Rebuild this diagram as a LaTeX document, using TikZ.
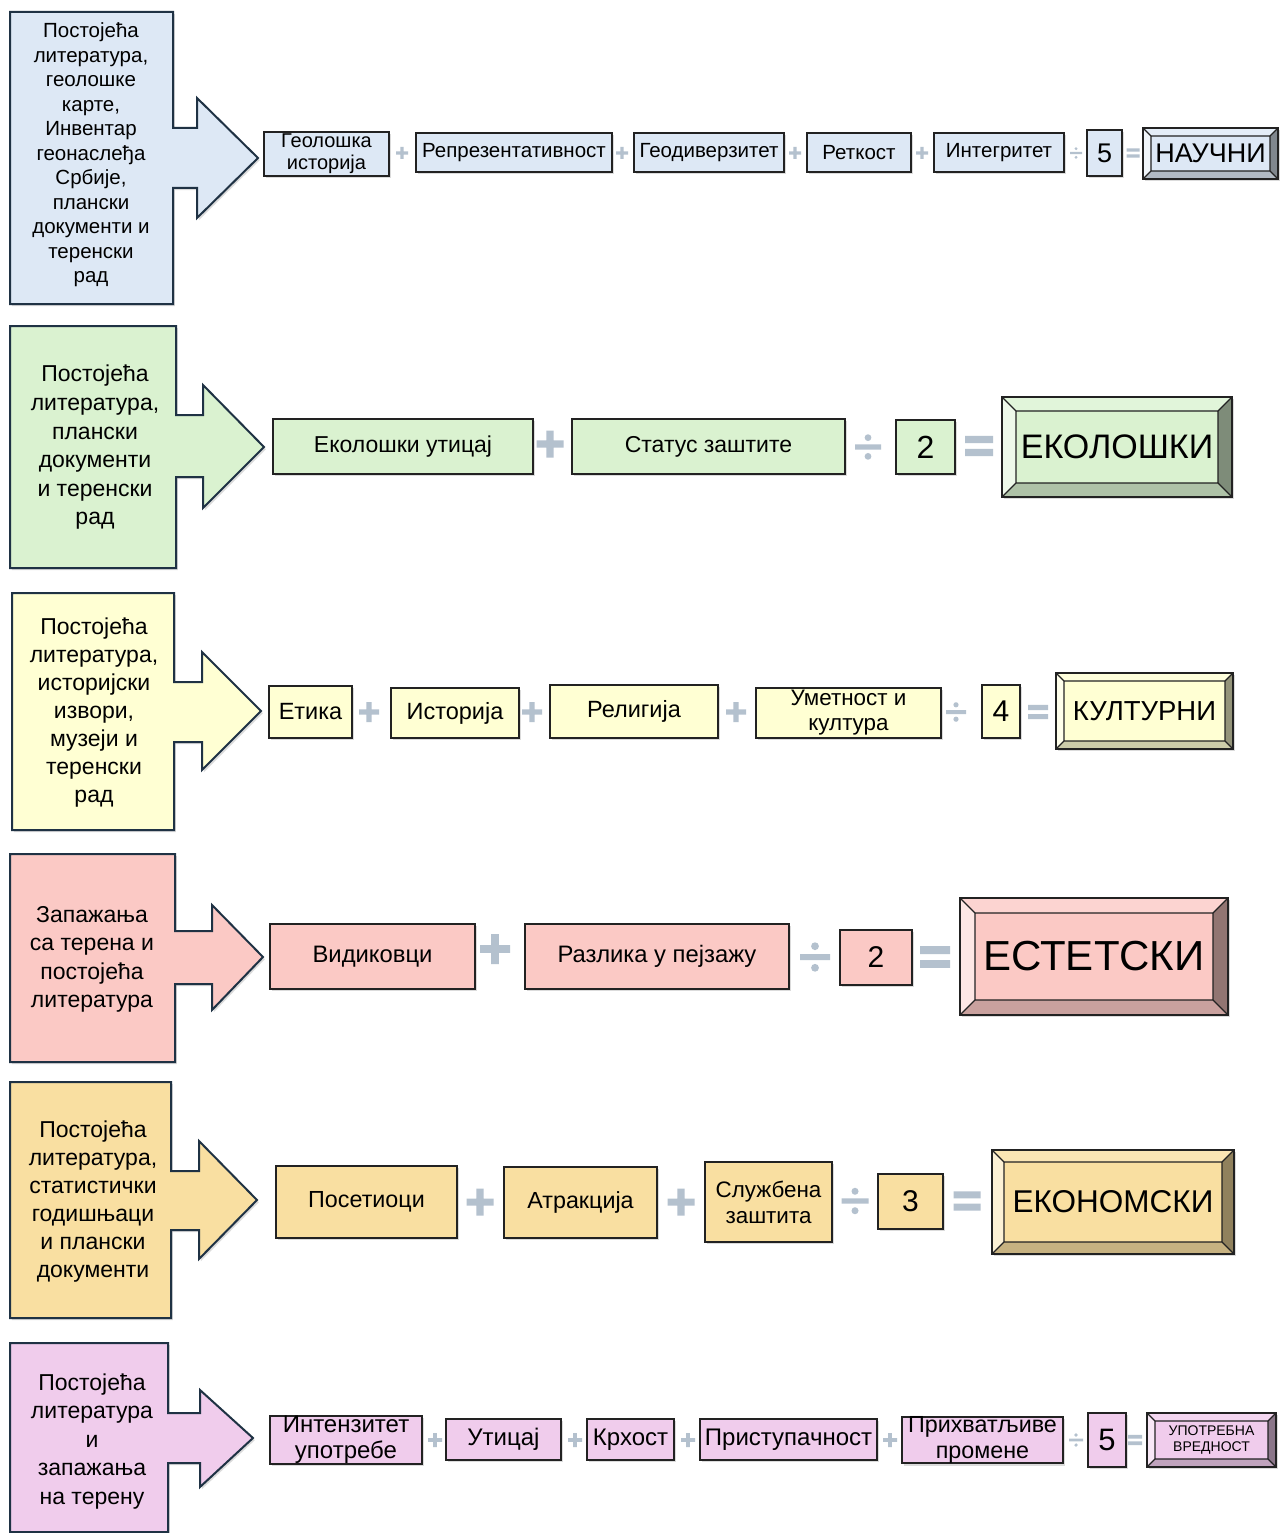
\documentclass[tikz,border=0pt]{standalone}
\usepackage{fontspec}
\setmainfont{Liberation Sans}
\usetikzlibrary{calc,shadows}
\definecolor{cB}{HTML}{DDE8F5}
\definecolor{cG}{HTML}{DAF2D0}
\definecolor{cY}{HTML}{FFFFD3}
\definecolor{cR}{HTML}{FBC9C5}
\definecolor{cO}{HTML}{F9DFA1}
\definecolor{cP}{HTML}{F0CCEC}
\definecolor{cS}{HTML}{1F3244}
\definecolor{cK}{HTML}{222222}
\definecolor{opc}{HTML}{B4C1CE}
\newcommand\fs[2]{\fontsize{#1}{#2}\selectfont}
\newcommand\opplus[3]{\fill[opc, shift={(#1,#2)}, scale=#3] (-0.5,-0.13) rectangle (0.5,0.13) (-0.13,-0.5) rectangle (0.13,0.5);}
\newcommand\opdiv[3]{\fill[opc, shift={(#1,#2)}, scale=#3] (-0.5,-0.1) rectangle (0.5,0.1) (0,-0.36) circle [radius=0.13] (0,0.36) circle [radius=0.13];}
\newcommand\opeq[3]{\fill[opc, shift={(#1,#2)}, scale=#3] (-0.5,-0.36) rectangle (0.5,-0.1) (-0.5,0.1) rectangle (0.5,0.36);}
\newcommand\bevel[9]{%
  \node[bevbox, fill=#7, minimum width=#4, minimum height=#5] (#1) at (#2,#3) {};
  \coordinate (#1-a) at ($(#1.north west)+(#6,#6)$);
  \coordinate (#1-b) at ($(#1.north east)+(-#6,#6)$);
  \coordinate (#1-c) at ($(#1.south east)+(-#6,-#6)$);
  \coordinate (#1-d) at ($(#1.south west)+(#6,-#6)$);
  \fill[#7!45!white] (#1.north west) -- (#1-a) -- (#1-d) -- (#1.south west) -- cycle;
  \fill[#7!80!white] (#1.north west) -- (#1.north east) -- (#1-b) -- (#1-a) -- cycle;
  \fill[#7!58!black] (#1.north east) -- (#1.south east) -- (#1-c) -- (#1-b) -- cycle;
  \fill[#7!80!black] (#1.south west) -- (#1.south east) -- (#1-c) -- (#1-d) -- cycle;
  \draw[line width=1.2pt, cK] (#1-a) rectangle (#1-c)
     (#1.north west) -- (#1-a) (#1.north east) -- (#1-b)
     (#1.south east) -- (#1-c) (#1.south west) -- (#1-d);
  \draw[line width=2.4pt, cK] (#1.north west) rectangle (#1.south east);
  \node[font=#8, align=center, inner sep=0pt] (#1-t) at (#1) {#9};
}
\tikzset{
  shd/.style={drop shadow={opacity=0.28, shadow xshift=1.8pt, shadow yshift=-2.2pt}},
  callout/.style={draw=cS, line width=2pt, line join=miter, shd},
  ctext/.style={align=center, inner sep=0pt, text=black},
  bx/.style={draw=cK, line width=2pt, inner sep=0pt, outer sep=0pt, align=center, shd},
  bevbox/.style={inner sep=0pt, outer sep=0pt, shd},
}
\begin{document}
\begin{tikzpicture}[x=1pt, y=-1pt]
\useasboundingbox (0,0) rectangle (1282,1533);
\fill[white] (0,0) rectangle (1282,1533);

% ---------------- Row 1 (blue)
\filldraw[callout, fill=cB] (10,12) -- (173,12) -- (173,128) -- (197,128) -- (197,98) -- (258,158) -- (197,218) -- (197,188) -- (173,188) -- (173,304) -- (10,304) -- cycle;
\node[ctext, font=\fs{20.5}{24.5}] (t1) at (91,155) {Постојећа\\литература,\\геолошке\\карте,\\Инвентар\\геонаслеђа\\Србије,\\плански\\документи и\\теренски\\рад};
\node[bx, fill=cB, minimum width=125, minimum height=44, font=\fs{20}{22}] (a1) at (326.5,154) {Геолошка\\историја};
\opplus{402}{153}{12}
\node[bx, fill=cB, minimum width=196, minimum height=39, font=\fs{20.5}{22}] (a2) at (514,152.5) {Репрезентативност};
\opplus{622}{153}{12}
\node[bx, fill=cB, minimum width=150, minimum height=39, font=\fs{20.5}{22}] (a3) at (709,152.5) {Геодиверзитет};
\opplus{795}{153}{12}
\node[bx, fill=cB, minimum width=104, minimum height=39, font=\fs{20.5}{22}] (a4) at (859,152.5) {Реткост};
\opplus{922}{153}{12}
\node[bx, fill=cB, minimum width=130, minimum height=39, font=\fs{20.5}{22}] (a5) at (999,152.5) {Интегритет};
\opdiv{1076}{153}{12}
\node[bx, fill=cB, minimum width=35, minimum height=46, font=\fs{27}{30}] (a6) at (1104.5,153) {5};
\opeq{1133}{153}{13}
\bevel{a7}{1210.5}{153.5}{135}{51}{8}{cB}{\fs{27}{30}}{НАУЧНИ}

% ---------------- Row 2 (green)
\filldraw[callout, fill=cG] (10,326) -- (176,326) -- (176,415) -- (203,415) -- (203,385) -- (264,447) -- (203,508) -- (203,477) -- (176,477) -- (176,568) -- (10,568) -- cycle;
\node[ctext, font=\fs{23}{28.6}] (t2) at (95,447.5) {Постојећа\\литература,\\плански\\документи\\и теренски\\рад};
\node[bx, fill=cG, minimum width=260, minimum height=55, font=\fs{23}{26}] (b1) at (403,446.5) {Еколошки утицај};
\opplus{550}{444}{27}
\node[bx, fill=cG, minimum width=273, minimum height=55, font=\fs{23}{26}] (b2) at (708.5,446.5) {Статус заштите};
\opdiv{868}{447}{26}
\node[bx, fill=cG, minimum width=59, minimum height=54, font=\fs{32}{34}] (b3) at (925.5,447) {2};
\opeq{979}{446}{28}
\bevel{b4}{1117}{447}{230}{100}{14}{cG}{\fs{34}{36}}{ЕКОЛОШКИ}

% ---------------- Row 3 (yellow)
\filldraw[callout, fill=cY] (12,593) -- (174,593) -- (174,682) -- (202,682) -- (202,652) -- (261,711) -- (202,770) -- (202,742) -- (174,742) -- (174,830) -- (12,830) -- cycle;
\node[ctext, font=\fs{23}{28}] (t3) at (94,712.5) {Постојећа\\литература,\\историјски\\извори,\\музеји и\\теренски\\рад};
\node[bx, fill=cY, minimum width=83, minimum height=52, font=\fs{23.5}{26}] (c1) at (310.5,712) {Етика};
\opplus{369}{712}{20}
\node[bx, fill=cY, minimum width=128, minimum height=50, font=\fs{23.5}{26}] (c2) at (455,713) {Историја};
\opplus{532}{712}{20}
\node[bx, fill=cY, minimum width=168, minimum height=53, font=\fs{23.5}{26}] (c3) at (634,711.5) {Религија};
\opplus{736}{712}{20}
\node[bx, fill=cY, minimum width=185, minimum height=50, font=\fs{22.4}{25}] (c4) at (848.5,713) {Уметност и\\култура};
\opdiv{956}{712}{20}
\node[bx, fill=cY, minimum width=38, minimum height=53, font=\fs{30}{32}] (c5) at (1001,711.5) {4};
\opeq{1038}{712}{20}
\bevel{c6}{1144.5}{711}{177}{76}{8}{cY}{\fs{27.5}{30}}{КУЛТУРНИ}

% ---------------- Row 4 (red)
\filldraw[callout, fill=cR] (10,854) -- (175,854) -- (175,931) -- (212,931) -- (212,905) -- (263,957) -- (212,1010) -- (212,984) -- (175,984) -- (175,1062) -- (10,1062) -- cycle;
\node[ctext, font=\fs{23}{28.5}] (t4) at (92,959.5) {Запажања\\са терена и\\постојећа\\литература};
\node[bx, fill=cR, minimum width=205, minimum height=65, font=\fs{23.8}{26}] (d1) at (372.5,956.5) {Видиковци};
\opplus{495}{949}{30}
\node[bx, fill=cR, minimum width=264, minimum height=65, font=\fs{23.8}{26}] (d2) at (657,956.5) {Разлика у пејзажу};
\opdiv{815}{957}{30}
\node[bx, fill=cR, minimum width=72, minimum height=55, font=\fs{30}{32}] (d3) at (876,957.5) {2};
\opeq{935}{957}{30}
\bevel{d4}{1094}{956.5}{268}{117}{15}{cR}{\fs{42}{44}}{ЕСТЕТСКИ}

% ---------------- Row 5 (orange)
\filldraw[callout, fill=cO] (10,1082) -- (171,1082) -- (171,1171) -- (199,1171) -- (199,1141) -- (257,1200) -- (199,1259) -- (199,1230) -- (171,1230) -- (171,1318) -- (10,1318) -- cycle;
\node[ctext, font=\fs{23}{28}] (t5) at (93,1201.5) {Постојећа\\литература,\\статистички\\годишњаци\\и плански\\документи};
\node[bx, fill=cO, minimum width=181, minimum height=72, font=\fs{23.3}{26}] (e1) at (366.5,1202) {Посетиоци};
\opplus{480}{1202}{27}
\node[bx, fill=cO, minimum width=153, minimum height=71, font=\fs{23.3}{26}] (e2) at (580.5,1202.5) {Атракција};
\opplus{681}{1202}{27}
\node[bx, fill=cO, minimum width=127, minimum height=80, font=\fs{22.4}{26}] (e3) at (768.5,1202) {Службена\\заштита};
\opdiv{855}{1201}{27}
\node[bx, fill=cO, minimum width=65, minimum height=55, font=\fs{30}{32}] (e4) at (910.5,1201.5) {3};
\opeq{967}{1201}{27}
\bevel{e5}{1113}{1202}{242}{104}{12}{cO}{\fs{31.5}{34}}{ЕКОНОМСКИ}

% ---------------- Row 6 (pink)
\filldraw[callout, fill=cP] (10,1343) -- (168,1343) -- (168,1413) -- (200,1413) -- (200,1390) -- (253,1438) -- (200,1487) -- (200,1463) -- (168,1463) -- (168,1532) -- (10,1532) -- cycle;
\node[ctext, font=\fs{23}{28.5}] (t6) at (92,1441.5) {Постојећа\\литература\\и\\запажања\\на терену};
\node[bx, fill=cP, minimum width=152, minimum height=46, font=\fs{24}{26}] (f1) at (346,1440) {Интензитет\\употребе};
\opplus{435}{1440}{14}
\node[bx, fill=cP, minimum width=115, minimum height=41, font=\fs{24}{26}] (f2) at (503.5,1439.5) {Утицај};
\opplus{575}{1440}{14}
\node[bx, fill=cP, minimum width=87, minimum height=41, font=\fs{24}{26}] (f3) at (630.5,1439.5) {Крхост};
\opplus{688}{1440}{14}
\node[bx, fill=cP, minimum width=177, minimum height=41, font=\fs{24}{26}] (f4) at (788.5,1439.5) {Приступачност};
\opplus{890}{1440}{14}
\node[bx, fill=cP, minimum width=161, minimum height=42, font=\fs{23.3}{26}] (f5) at (982.5,1440) {Прихватљиве\\промене};
\opdiv{1076}{1440}{14}
\node[bx, fill=cP, minimum width=38, minimum height=54, font=\fs{31}{33}] (f6) at (1107,1440) {5};
\opeq{1135}{1440}{14}
\bevel{f7}{1211.5}{1440}{129}{54}{8}{cP}{\fs{14}{16}}{УПОТРЕБНА\\ВРЕДНОСТ}
\end{tikzpicture}
\end{document}
